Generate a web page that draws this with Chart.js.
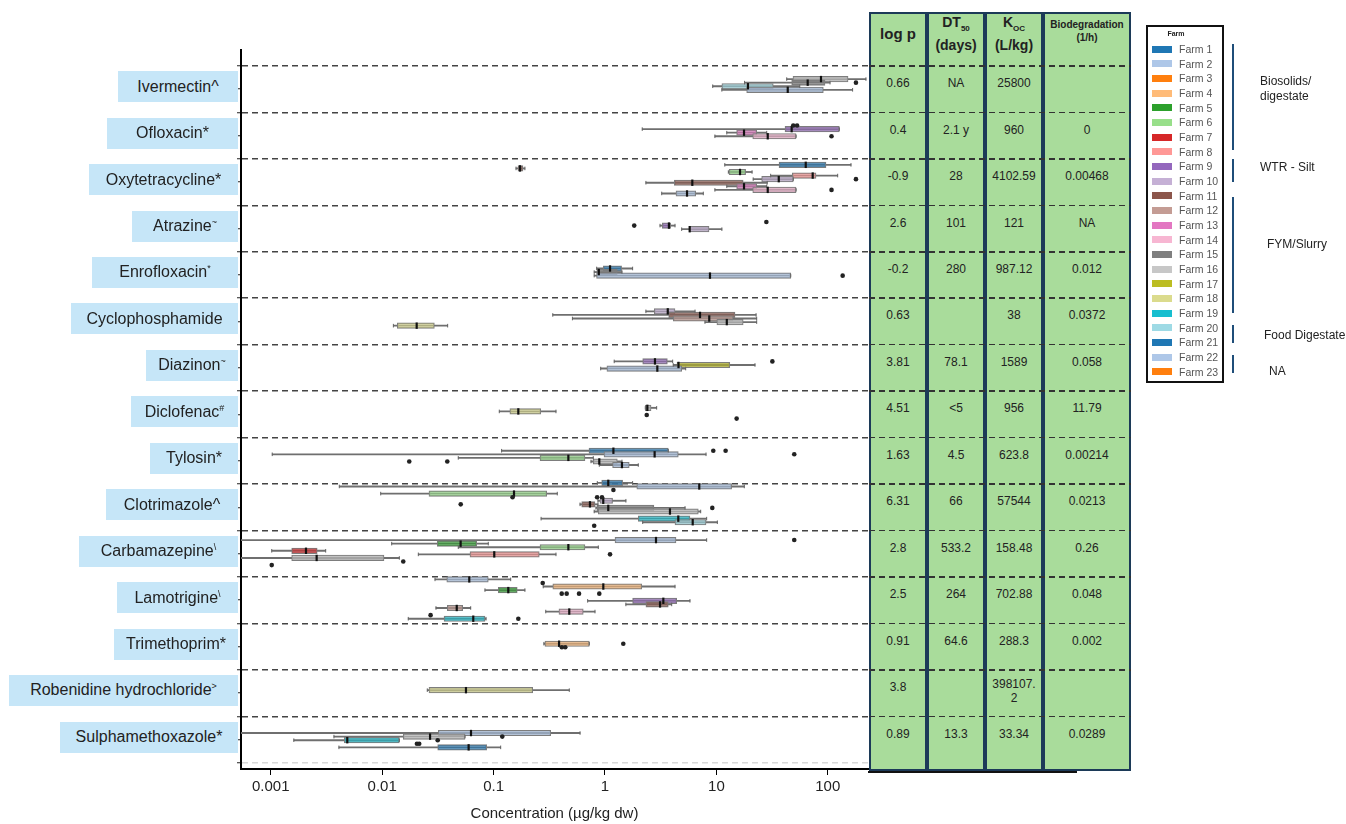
<!DOCTYPE html>
<html>
<head>
<meta charset="utf-8">
<script src="https://cdn.jsdelivr.net/npm/chart.js@4/dist/chart.umd.min.js"></script>
<style>
  body { margin: 0; background: #fff; }
  #wrap { position: relative; width: 1346px; height: 824px; overflow: hidden;
          font-family: "Liberation Sans", Arial, sans-serif; color: #222; }
  #myChart { position: absolute; left: 0; top: 0; }
  .lab { position: absolute; background: #c6e6f8; display: flex; align-items: center;
         justify-content: center; font-size: 16px; white-space: nowrap; }
  .lab sup { font-size: 9px; }
  .col { position: absolute; box-sizing: border-box; background: #a9dc9b; border: 2px solid #1c3a58; }
  .dash { position: absolute; height: 1.5px;
          background: repeating-linear-gradient(90deg, #333 0 6px, transparent 6px 10px); }
  .cell { position: absolute; text-align: center; font-size: 12px; line-height: 14px; }
  .hd { position: absolute; text-align: center; font-weight: bold; }
  .hd sub { font-size: 8px; }
  .leg { position: absolute; box-sizing: border-box; border: 2px solid #111; background: #fff; }
  .sw { position: absolute; width: 20px; height: 7px; }
  .lt { position: absolute; font-size: 10.5px; line-height: 12px; color: #555; }
  .br { position: absolute; width: 2px; background: #1f4e79; }
  .grp { position: absolute; font-size: 12px; line-height: 15px; color: #222; }
</style>
</head>
<body>
<div id="wrap">
  <canvas id="myChart" width="1346" height="824"></canvas>
  <div id="overlay"></div>
</div>
<script>
// compounds, top to bottom
var compoundNames = ["Ivermectin", "Ofloxacin", "Oxytetracycline", "Atrazine", "Enrofloxacin",
  "Cyclophosphamide", "Diazinon", "Diclofenac", "Tylosin", "Clotrimazole", "Carbamazepine",
  "Lamotrigine", "Trimethoprim", "Robenidine hydrochloride", "Sulphamethoxazole"];
var compoundMarks = ["^", "*", "*", "~", "*", "", "~", "#", "*", "^", "\\", "\\", "*", ">", "*"];
var markRaised = [false, false, false, true, true, false, true, true, false, false, true, true, false, true, false];

// table columns
var logP = ["0.66", "0.4", "-0.9", "2.6", "-0.2", "0.63", "3.81", "4.51", "1.63", "6.31", "2.8", "2.5", "0.91", "3.8", "0.89"];
var dt50 = ["NA", "2.1 y", "28", "101", "280", "", "78.1", "<5", "4.5", "66", "533.2", "264", "64.6", "", "13.3"];
var koc = ["25800", "960", "4102.59", "121", "987.12", "38", "1589", "956", "623.8", "57544", "158.48", "702.88", "288.3", "398107.\n2", "33.34"];
var biodeg = ["", "0", "0.00468", "NA", "0.012", "0.0372", "0.058", "11.79", "0.00214", "0.0213", "0.26", "0.048", "0.002", "", "0.0289"];

var farms = [];
for (var f = 1; f <= 23; f++) farms.push("Farm " + f);

// concentration ticks (ug/kg dw)
var concTicks = [0.001, 0.01, 0.1, 1, 10, 100];

// boxes: [dodge slot, farm, min, q1, median, q3, max]
var ivermectinBoxes = [[2, 16, 42.8, 48.7, 86.9, 152, 220], [3, 15, 17.9, 47.4, 66, 94.4, 104.7],
  [4, 20, 9.27, 11.2, 19.2, 32.4, 56], [5, 22, 11.2, 18.7, 43.7, 91.2, 167]];
var ofloxacinBoxes = [[3, 9, 2.16, 41.3, 47.4, 127, 127], [4, 13, 12.4, 15.2, 17.7, 23, 28.3],
  [5, 14, 9.7, 21.2, 28.9, 51.9, 51.9]];
var oxytetracyclineBoxes = [[0, 1, 11.9, 36.5, 63.4, 96.4, 161.5], [1, 11, 0.159, 0.1656, 0.1726, 0.1836, 0.191],
  [2, 6, 12.8, 13.0, 16.3, 18.3, 20.9], [3, 8, 30.7, 48, 73.2, 78.4, 122.7],
  [4, 10, 21.4, 25.5, 36.3, 49, 49], [5, 11, 2.33, 4.19, 6.08, 17.4, 28.6],
  [6, 13, 12.4, 15.2, 17.7, 23, 28.3], [7, 14, 9.7, 21.2, 28.9, 51.9, 51.9],
  [8, 2, 3.23, 4.34, 5.45, 6.52, 7.63]];
var atrazineBoxes = [[4, 9, 3.12, 3.27, 3.75, 3.89, 4.25], [5, 10, 4.88, 5.68, 5.76, 8.59, 11.2]];
var enrofloxacinBoxes = [[3, 1, 0.842, 0.965, 1.11, 1.41, 1.77], [4, 15, 0.80, 0.85, 0.88, 1.29, 1.42],
  [5, 22, 0.80, 0.84, 8.76, 46.5, 46.5]];
var cyclophosphamideBoxes = [[2, 10, 2.33, 2.77, 3.66, 4.25, 6.43], [3, 11, 0.34, 3.73, 7.13, 14.7, 22.7],
  [4, 12, 0.51, 4.1, 8.63, 14.1, 23], [5, 16, 7.9, 10.1, 12.4, 17.4, 23],
  [6, 18, 0.0126, 0.01367, 0.0204, 0.0294, 0.0387]];
var diazinonBoxes = [[3, 9, 1.21, 2.18, 2.81, 3.63, 4.05], [4, 17, 4.1, 4.43, 4.57, 13.2, 22.2],
  [5, 22, 0.915, 1.04, 2.95, 4.88, 5.3]];
var diclofenacBoxes = [[3, 16, 2.30, 2.30, 2.40, 2.59, 2.91], [4, 18, 0.1125, 0.140, 0.1667, 0.265, 0.363]];
var tylosinBoxes = [[2, 1, 0.118, 0.718, 1.19, 3.70, 3.70], [3, 22, 0.00103, 0.98, 2.79, 4.55, 8.07],
  [4, 6, 0.0482, 0.261, 0.469, 0.661, 0.785], [5, 16, 0.749, 0.785, 0.889, 1.29, 1.42],
  [6, 2, 0.889, 1.17, 1.42, 1.65, 1.99]];
var clotrimazoleBoxes = [[-2, 1, 0.853, 0.934, 1.07, 1.44, 1.77], [-1, 2, 0.00412, 1.93, 7.02, 13.7, 17.8],
  [1, 6, 0.0097, 0.0263, 0.1525, 0.300, 0.373], [3, 10, 0.865, 0.902, 0.965, 1.17, 1.54],
  [4, 11, 0.597, 0.618, 0.733, 0.813, 0.865], [5, 15, 0.83, 0.853, 1.07, 2.75, 5.23],
  [6, 16, 0.80, 0.871, 3.83, 6.88, 7.23], [8, 19, 0.267, 1.99, 4.55, 5.79, 8.18],
  [9, 20, 2.18, 4.25, 6.13, 8.07, 10.2]];
var carbamazepineBoxes = [[1, 2, 0.0005, 1.23, 2.87, 4.34, 8.18], [2, 5, 0.01217, 0.0312, 0.0506, 0.0705, 0.0896],
  [3, 6, 0.0482, 0.261, 0.469, 0.661, 0.871], [4, 7, 0.00102, 0.00154, 0.00207, 0.00261, 0.00311],
  [5, 8, 0.0211, 0.0614, 0.1014, 0.257, 0.363], [6, 16, 0.0005, 0.00154, 0.00258, 0.01038, 0.01425]];
var lamotrigineBoxes = [[-1, 22, 0.0298, 0.0380, 0.0605, 0.0896, 0.1424], [1, 4, 0.279, 0.34, 0.966, 2.14, 4.25],
  [2, 5, 0.0837, 0.110, 0.1355, 0.163, 0.191], [5, 9, 0.699, 1.77, 3.34, 4.4, 5.79],
  [6, 11, 1.54, 2.33, 3.12, 3.70, 3.97], [7, 12, 0.0304, 0.0384, 0.0467, 0.0528, 0.0623],
  [8, 14, 0.294, 0.386, 0.478, 0.638, 0.813], [10, 19, 0.01714, 0.0359, 0.0657, 0.0837, 0.0855]];
var trimethoprimBoxes = [[4, 4, 0.283, 0.289, 0.387, 0.723, 0.723]];
var robenidineBoxes = [[4, 18, 0.0254, 0.0263, 0.0565, 0.2244, 0.478]];
var sulphamethoxazoleBoxes = [[3, 22, 0.0005, 0.0319, 0.0627, 0.326, 0.597], [4, 16, 0.00369, 0.01546, 0.0269, 0.0554, 0.0554],
  [5, 19, 0.00161, 0.00457, 0.00486, 0.01425, 0.01425], [7, 1, 0.00409, 0.0315, 0.0597, 0.0867, 0.1158]];

// outliers: [dodge slot, value]
var ivermectinOutliers = [[3, 179]];
var ofloxacinOutliers = [[2, 49], [2, 53], [5, 108]];
var oxytetracyclineOutliers = [[4, 179], [7, 108]];
var atrazineOutliers = [[4, 1.83], [3, 28.1]];
var enrofloxacinOutliers = [[5, 136]];
var cyclophosphamideOutliers = [];
var diazinonOutliers = [[3, 31.8]];
var diclofenacOutliers = [[5, 2.37], [6, 15.2]];
var tylosinOutliers = [[2, 9.38], [2, 12.1], [3, 50], [5, 0.0175], [5, 0.0384]];
var clotrimazoleOutliers = [[0, 1.19], [2, 0.148], [2, 0.85], [2, 0.94], [4, 0.0507], [5, 9.19], [10, 0.80]];
var carbamazepineOutliers = [[1, 50], [5, 1.11], [7, 0.01546], [8, 0.00102]];
var lamotrigineOutliers = [[0, 0.276], [3, 0.409], [3, 0.453], [3, 0.585], [3, 0.889], [9, 0.0272], [10, 0.1667]];
var trimethoprimOutliers = [[4, 1.46], [5, 0.41], [5, 0.44]];
var robenidineOutliers = [];
var sulphamethoxazoleOutliers = [[4, 0.1197], [5, 0.0315], [6, 0.0205], [6, 0.0215]];

var boxRows = [ivermectinBoxes, ofloxacinBoxes, oxytetracyclineBoxes, atrazineBoxes, enrofloxacinBoxes,
  cyclophosphamideBoxes, diazinonBoxes, diclofenacBoxes, tylosinBoxes, clotrimazoleBoxes,
  carbamazepineBoxes, lamotrigineBoxes, trimethoprimBoxes, robenidineBoxes, sulphamethoxazoleBoxes];
var outlierRows = [ivermectinOutliers, ofloxacinOutliers, oxytetracyclineOutliers, atrazineOutliers,
  enrofloxacinOutliers, cyclophosphamideOutliers, diazinonOutliers, diclofenacOutliers, tylosinOutliers,
  clotrimazoleOutliers, carbamazepineOutliers, lamotrigineOutliers, trimethoprimOutliers,
  robenidineOutliers, sulphamethoxazoleOutliers];

// styling
var farmColours = ["#1f77b4", "#aec7e8", "#ff7f0e", "#ffbb78", "#2ca02c", "#98df8a", "#d62728", "#ff9896",
  "#9467bd", "#c5b0d5", "#8c564b", "#c49c94", "#e377c2", "#f7b6d2", "#7f7f7f", "#c7c7c7", "#bcbd22",
  "#dbdb8d", "#17becf", "#9edae5", "#1f77b4", "#aec7e8", "#ff7f0e"];
var labelLefts = [118, 107, 89, 132, 92, 71, 146, 131, 150, 106, 79, 117, 114, 9, 60];
var slotBase = 0.129, slotStep = 0.077;

function rgba(hex, a) {
  var n = parseInt(hex.slice(1), 16);
  return "rgba(" + (n >> 16) + "," + ((n >> 8) & 255) + "," + (n & 255) + "," + a + ")";
}
function laneY(row, slot) {
  return row + slotBase + slot * slotStep;
}

var whiskers = [], boxes = [], boxColours = [], medians = [], caps = [], outliers = [];
boxRows.forEach(function (list, row) {
  list.forEach(function (b) {
    var y = laneY(row, b[0]);
    whiskers.push({ x: [b[2], b[6]], y: y });
    boxes.push({ x: [b[3], b[5]], y: y });
    boxColours.push(rgba(farmColours[b[1] - 1], 0.6));
    medians.push({ x: b[4], y: y });
    caps.push({ x: b[2], y: y }, { x: b[6], y: y });
  });
});
outlierRows.forEach(function (list, row) {
  list.forEach(function (o) {
    outliers.push({ x: o[1], y: laneY(row, o[0]) });
  });
});

var rowTicks = [];
for (var k = 0; k <= 15; k++) {
  rowTicks.push(k);
  if (k < 15) rowTicks.push(k + 0.5);
}

Chart.defaults.font.family = '"Liberation Sans", Arial, sans-serif';

var ctx = document.getElementById("myChart").getContext("2d");
var chart = new Chart(ctx, {
  type: "bar",
  data: {
    datasets: [
      { type: "bar", data: whiskers, backgroundColor: "#6f6f6f", barThickness: 1.2, grouped: false, order: 5 },
      { type: "bar", data: boxes, backgroundColor: boxColours, borderColor: "#7d7d7d", borderWidth: 1,
        borderSkipped: false, barThickness: 5.5, grouped: false, order: 4 },
      { type: "scatter", data: caps, pointStyle: "line", rotation: 90, radius: 1.8,
        borderColor: "#666", borderWidth: 1, order: 3 },
      { type: "scatter", data: medians, pointStyle: "line", rotation: 90, radius: 3.2,
        borderColor: "#111", borderWidth: 2.2, order: 2 },
      { type: "scatter", data: outliers, pointStyle: "circle", radius: 2.3,
        backgroundColor: "#222", borderWidth: 0, order: 1 }
    ]
  },
  options: {
    indexAxis: "y",
    responsive: false,
    animation: false,
    events: [],
    devicePixelRatio: 1,
    layout: { padding: { left: 237, right: 478, top: 50, bottom: 1 } },
    plugins: { legend: { display: false }, tooltip: { enabled: false } },
    scales: {
      x: {
        type: "logarithmic",
        min: 0.00054025,
        max: 229.6,
        offset: false,
        afterBuildTicks: function (axis) {
          axis.ticks = concTicks.map(function (v) { return { value: v }; });
        },
        ticks: { autoSkip: false, maxRotation: 0, color: "#222", font: { size: 15 }, padding: 3,
          callback: function (v) { return String(v); } },
        grid: { drawOnChartArea: false, tickLength: 6, color: "#000" },
        border: { color: "#000", width: 2 },
        title: { display: true, text: "Concentration (\u00b5g/kg dw)", color: "#222",
          font: { size: 15 }, padding: { top: 6, bottom: 0 } }
      },
      y: {
        type: "linear",
        min: -0.343,
        max: 15.134,
        reverse: true,
        offset: false,
        afterBuildTicks: function (axis) {
          axis.ticks = rowTicks.map(function (v) { return { value: v }; });
        },
        ticks: { display: false },
        grid: {
          offset: false,
          drawTicks: true,
          tickLength: 4,
          lineWidth: 1.5,
          borderDash: [6, 4],
          tickBorderDash: [],
          tickColor: "#222",
          tickWidth: 1,
          color: function (c) {
            var v = c.tick ? c.tick.value : 0;
            if (v % 1 !== 0) return "rgba(0,0,0,0)";
            return v === 15 ? "#d8d8d8" : "#444";
          }
        },
        border: { color: "#000", width: 2, dash: [6, 4] }
      }
    }
  }
});

// overlays: labels, property table, farm legend
var ov = document.getElementById("overlay");
var ys = chart.scales.y;
function add(cls, css, html) {
  var d = document.createElement("div");
  d.className = cls;
  d.style.cssText = css;
  if (html !== undefined) d.innerHTML = html;
  ov.appendChild(d);
  return d;
}
function esc(s) {
  return s.replace(/&/g, "&amp;").replace(/</g, "&lt;").replace(/>/g, "&gt;");
}

compoundNames.forEach(function (name, i) {
  var c = ys.getPixelForValue(i + 0.5) - 2.5;
  var mark = compoundMarks[i] ? (markRaised[i] ? "<sup>" + esc(compoundMarks[i]) + "</sup>" : esc(compoundMarks[i])) : "";
  add("lab", "left:" + labelLefts[i] + "px;width:" + (238 - labelLefts[i]) + "px;top:" + (c - 15.5) + "px;height:31px;",
    "<span>" + esc(name) + mark + "</span>");
});

var colEdges = [869, 927, 985, 1043, 1131];
var tableTop = 12, tableBottom = 771;
for (var ci = 0; ci < 4; ci++) {
  add("col", "left:" + colEdges[ci] + "px;width:" + (colEdges[ci + 1] - colEdges[ci]) + "px;top:" + tableTop +
    "px;height:" + (tableBottom - tableTop) + "px;");
}
add("", "position:absolute;left:868px;top:771px;width:209px;height:2px;background:#111;");
for (var r = 0; r < 15; r++) {
  add("dash", "left:869px;width:262px;top:" + (ys.getPixelForValue(r) - 0.75) + "px;");
}
var tableCols = [logP, dt50, koc, biodeg];
tableCols.forEach(function (vals, ci) {
  var left = colEdges[ci], w = colEdges[ci + 1] - colEdges[ci];
  vals.forEach(function (v, r) {
    if (!v) return;
    var lines = v.split("\n");
    var c = ys.getPixelForValue(r + 0.5) - 6;
    var h = lines.length * 14;
    add("cell", "left:" + left + "px;width:" + w + "px;top:" + (c - h / 2 + (lines.length > 1 ? 4 : 0)) + "px;",
      lines.map(esc).join("<br>"));
  });
});
add("hd", "left:869px;width:58px;top:25px;font-size:15px;line-height:18px;", "log p");
add("hd", "left:927px;width:58px;top:14px;font-size:14px;line-height:17px;", "DT<sub>50</sub><br>(days)");
add("hd", "left:985px;width:58px;top:14px;font-size:14px;line-height:17px;", "K<sub>OC</sub><br>(L/kg)");
add("hd", "left:1043px;width:88px;top:19px;font-size:10px;line-height:12.5px;", "Biodegradation<br>(1/h)");

add("leg", "left:1146px;top:25px;width:78px;height:358px;");
add("hd", "left:1146px;width:60px;top:30px;font-size:7px;line-height:8px;", "Farm");
farms.forEach(function (name, i) {
  var c = 49 + 14.67 * i;
  add("sw", "left:1152px;top:" + (c - 3.5) + "px;background:" + farmColours[i] + ";");
  add("lt", "left:1179px;top:" + (c - 6) + "px;", name);
});

var brackets = [[44, 150], [159, 182], [197, 313], [325, 343], [355, 373]];
brackets.forEach(function (b) {
  add("br", "left:1232px;top:" + b[0] + "px;height:" + (b[1] - b[0]) + "px;");
});
add("grp", "left:1260px;top:74px;", "Biosolids/<br>digestate");
add("grp", "left:1260px;top:160px;", "WTR - Silt");
add("grp", "left:1267px;top:237px;", "FYM/Slurry");
add("grp", "left:1264px;top:328px;", "Food Digestate");
add("grp", "left:1269px;top:364px;", "NA");
</script>
</body>
</html>
